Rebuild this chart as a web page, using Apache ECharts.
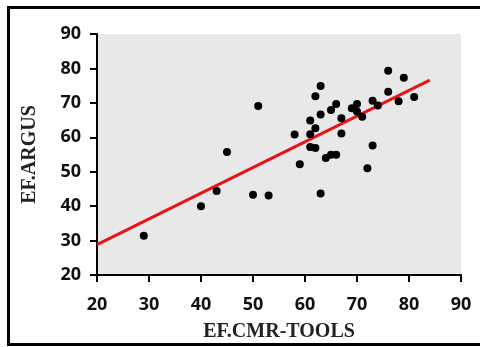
<!DOCTYPE html>
<html>
<head>
<meta charset="utf-8">
<script src="https://cdn.jsdelivr.net/npm/echarts@6/dist/echarts.min.js"></script>
<style>
html,body{margin:0;padding:0;background:#fff;}
#c{width:480px;height:347px;}
</style>
</head>
<body>
<div id="c"></div>
<script>
var xValues = [29, 40, 43, 45, 50, 53, 51, 58, 59, 61, 61, 62, 61, 62, 62, 63, 63, 63, 64, 65, 66, 65, 66, 67, 67, 69, 70, 70, 71, 72, 73, 73, 74, 76, 76, 78, 79, 81];
var yValues = [31.4, 40.0, 44.4, 55.7, 43.3, 43.1, 69.1, 60.8, 52.2, 64.9, 60.9, 62.6, 57.2, 56.9, 71.9, 74.9, 66.6, 43.7, 54.0, 54.9, 54.9, 67.9, 69.7, 65.5, 61.1, 68.4, 69.7, 67.5, 66.0, 51.0, 57.6, 70.6, 69.2, 79.3, 73.2, 70.5, 77.3, 71.7];
var fitX = [20, 84];
var fitY = [28.8, 76.6];
var xTicks = [20, 30, 40, 50, 60, 70, 80, 90];
var yTicks = [20, 30, 40, 50, 60, 70, 80, 90];

var points = xValues.map(function (x, i) { return [x, yValues[i]]; });
var fitLine = fitX.map(function (x, i) { return [x, fitY[i]]; });

var chart = echarts.init(document.getElementById('c'), null, {renderer: 'canvas'});
var tickFont = {fontFamily: 'Open Sans', fontWeight: 'bold', fontSize: 18, color: '#111'};
chart.setOption({
  animation: false,
  backgroundColor: '#fff',
  graphic: [{
    type: 'rect',
    shape: {x: 8.5, y: 7.5, width: 476, height: 337},
    style: {fill: 'none', stroke: '#000', lineWidth: 3},
    z: 100
  }],
  grid: {left: 97, right: 19, top: 34, bottom: 72, show: true, backgroundColor: '#e8e8e8', borderWidth: 0},
  xAxis: {
    type: 'value', min: xTicks[0], max: xTicks[xTicks.length - 1], interval: 10,
    name: 'EF.CMR-TOOLS', nameLocation: 'middle', nameGap: 47,
    nameTextStyle: {fontFamily: 'Liberation Serif', fontWeight: 'bold', fontSize: 20, color: '#222'},
    axisLine: {show: true, lineStyle: {color: '#000', width: 2}},
    axisTick: {show: true, length: 7, lineStyle: {color: '#000', width: 2}},
    axisLabel: Object.assign({margin: 21}, tickFont),
    splitLine: {show: false}
  },
  yAxis: {
    type: 'value', min: yTicks[0], max: yTicks[yTicks.length - 1], interval: 10,
    name: 'EF.ARGUS', nameLocation: 'middle', nameGap: 57,
    nameTextStyle: {fontFamily: 'Liberation Serif', fontWeight: 'bold', fontSize: 20, color: '#222'},
    axisLine: {show: true, lineStyle: {color: '#000', width: 2}},
    axisTick: {show: true, length: 7, lineStyle: {color: '#000', width: 2}},
    axisLabel: Object.assign({margin: 16}, tickFont),
    splitLine: {show: false}
  },
  series: [
    {
      type: 'line', data: fitLine, symbol: 'none', silent: true,
      lineStyle: {color: '#e8141a', width: 3}, z: 3
    },
    {
      type: 'scatter', data: points, symbol: 'circle', symbolSize: 8,
      itemStyle: {color: '#000', opacity: 1}, z: 4
    }
  ]
});
</script>
</body>
</html>
